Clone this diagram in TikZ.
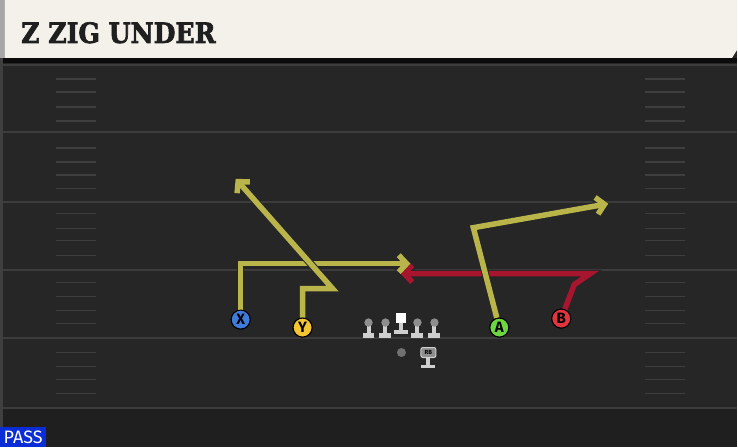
\documentclass[tikz,border=0pt]{standalone}
\usepackage{fontspec}
\usetikzlibrary{arrows.meta}
\newfontfamily\titlefont{DejaVu Serif Bold}[FakeBold=2.5]
\newfontfamily\labelfont{Fira Sans}

\definecolor{field}{HTML}{262626}
\definecolor{fielddark}{HTML}{1F1F1F}
\definecolor{yardline}{HTML}{3C3C3C}
\definecolor{hashline}{HTML}{3E3E3E}
\definecolor{cream}{HTML}{F4F1EA}
\definecolor{routeyellow}{HTML}{BAB54B}
\definecolor{routered}{HTML}{A8152F}
\definecolor{xblue}{HTML}{3F7BDA}
\definecolor{yyellow}{HTML}{F3C531}
\definecolor{agreen}{HTML}{6CD640}
\definecolor{bred}{HTML}{E1343F}
\definecolor{passblue}{HTML}{0A2DD8}
\definecolor{linegray}{HTML}{CFCFCF}
\definecolor{headgray}{HTML}{8E8E8E}

\begin{document}
\begin{tikzpicture}[x=1pt, y=-1pt,
    player/.style = {draw=black, circle, line width=1pt, minimum size=19pt, inner sep=0pt,
      font=\labelfont\bfseries\fontsize{15}{15}\selectfont},
    route/.style = {line width=5.5pt, line join=miter, -{Straight Barb[length=8pt, width=17pt]},
      preaction={draw=black!85, line width=7.5pt}},
    yard/.style = {draw=yardline, line width=2pt},
    hash/.style = {draw=hashline, line width=1.5pt}]

% field
\fill[field] (0,0) rectangle (738,448);
\fill[fielddark] (0,409) rectangle (738,448);
\fill[black!70!field] (0,58) rectangle (738,63);
\fill[black!60!white!40!field] (0,58) rectangle (3,448);
\foreach \y in {65,132,202,270,338,409}
  \draw[yard] (3,\y) -- (738,\y);
\foreach \y in {79,92,107,121,148,162,175,189,214,229,241,256,283,297,311,324,353,367,380,394} {
  \draw[hash] (56,\y) -- (96,\y);
  \draw[hash] (646,\y) -- (686,\y);
}

% title bar
\fill[black!35] (0,0) rectangle (5,58);
\fill[cream] (5,0) -- (738,0) -- (738,50) -- (733,58) -- (5,58) -- cycle;
\node[anchor=base west, inner sep=0pt, text=black!88, font=\titlefont\fontsize{28}{28}\selectfont]
  (title) at (21,43) {\scalebox{0.9}[1]{Z ZIG UNDER}};

% players
\node[player, fill=xblue] (X) at (241,320) {X};
\node[player, fill=yyellow] (Y) at (303,328) {Y};
\node[player, fill=agreen] (A) at (500,328) {A};
\node[player, fill=bred] (B) at (562,319) {B};

\coordinate (xcut) at (241,264);
\coordinate (xend) at (411,264);
\coordinate (ystem) at (303,289);
\coordinate (ybreak) at (333,289);
\coordinate (yend) at (236,179);
\coordinate (abreak) at (474,228);
\coordinate (aend) at (609,204);
\coordinate (bstem) at (575,285);
\coordinate (bbreak) at (591,274);
\coordinate (bend) at (401,274);

% routes
\draw[route, draw=routered] (B) -- (bstem) -- (bbreak) -- (bend);
\draw[route, draw=routeyellow] (X) -- (xcut) -- (xend);
\draw[route, draw=routeyellow] (Y) -- (ystem) -- (ybreak) -- (yend);
\draw[route, draw=routeyellow] (A) -- (abreak) -- (aend);
\node[player, fill=xblue] at (X) {X};
\node[player, fill=yyellow] at (Y) {Y};
\node[player, fill=agreen] at (A) {A};
\node[player, fill=bred] at (B) {B};

% line
\foreach \x in {369,386,418,435} {
  \fill[linegray] (\x-2,323) rectangle (\x+2,334);
  \fill[linegray] (\x-6,333) rectangle (\x+6,338);
  \fill[headgray] (\x,323) circle (4.2);
}
\fill[linegray] (400,322) rectangle (404,331);
\fill[linegray] (395,330) rectangle (409,334);
\fill[white] (397,313) rectangle (407,323);
\fill[headgray!80!black] (402,353) circle (4.5);
\fill[linegray] (427,357) rectangle (431,366);
\fill[linegray] (422,365) rectangle (436,368);
\node[draw=linegray, fill=headgray, rounded corners=2pt, line width=1pt, minimum width=15pt,
  minimum height=10pt, inner sep=0pt, font=\labelfont\bfseries\fontsize{6}{6}\selectfont] (rb) at (429,353) {RB};

% play type
\node[fill=passblue, text=white, anchor=south west, minimum width=46pt, minimum height=20pt, inner sep=0pt,
  font=\labelfont\fontsize{18}{18}\selectfont] (pass) at (0,448) {PASS};
\end{tikzpicture}
\end{document}
